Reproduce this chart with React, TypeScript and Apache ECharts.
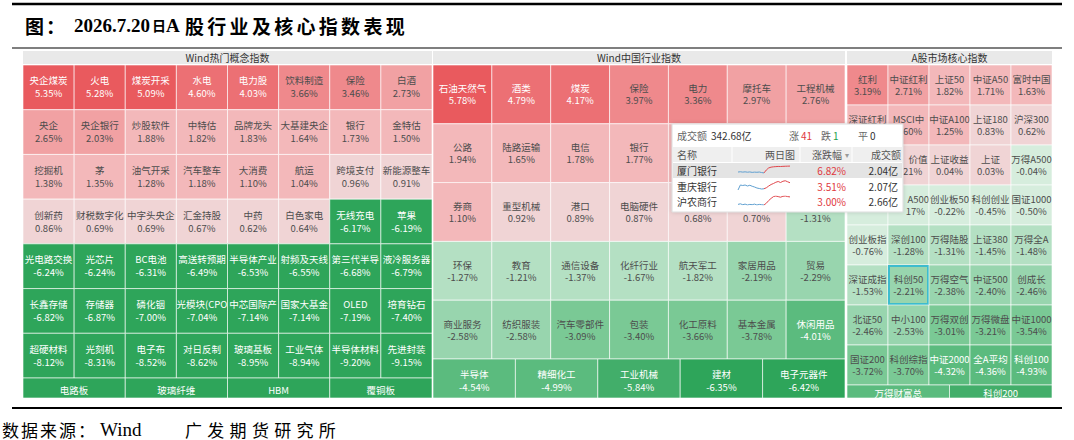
import React, { useEffect, useRef } from "react";
import * as echarts from "echarts";

const CN_FONT = '"Noto Sans CJK SC", "Microsoft YaHei", sans-serif';
const SERIF_FONT = '"Liberation Serif", "Noto Sans CJK SC", serif';
const CELL_FS = 9.5;

// Wind热门概念指数 (8 per row)
const conceptNames = [
  "央企煤炭", "火电", "煤炭开采", "水电", "电力股", "饮料制造", "保险", "白酒",
  "央企", "央企银行", "炒股软件", "中特估", "品牌龙头", "大基建央企", "银行", "金特估",
  "挖掘机", "茅", "油气开采", "汽车整车", "大消费", "航运", "跨境支付", "新能源整车",
  "创新药", "财税数字化", "中字头央企", "汇金持股", "中药", "白色家电", "无线充电", "苹果",
  "光电路交换", "光芯片", "BC电池", "高送转预期", "半导体产业", "射频及天线", "第三代半导", "液冷服务器",
  "长鑫存储", "存储器", "磷化铟", "光模块(CPO", "中芯国际产", "国家大基金", "OLED", "培育钻石",
  "超硬材料", "光刻机", "电子布", "对日反制", "玻璃基板", "工业气体", "半导体材料", "先进封装",
];
const conceptValues = [
  5.35, 5.28, 5.09, 4.6, 4.03, 3.66, 3.46, 2.73,
  2.65, 2.03, 1.88, 1.82, 1.83, 1.64, 1.73, 1.5,
  1.38, 1.35, 1.28, 1.18, 1.1, 1.04, 0.96, 0.91,
  0.86, 0.69, 0.69, 0.67, 0.62, 0.64, -6.17, -6.19,
  -6.24, -6.24, -6.31, -6.49, -6.53, -6.55, -6.68, -6.79,
  -6.82, -6.87, -7.0, -7.04, -7.14, -7.14, -7.19, -7.4,
  -8.12, -8.31, -8.52, -8.62, -8.95, -8.94, -9.2, -9.15,
];
const conceptTailNames = ["电路板", "玻璃纤维", "HBM", "覆铜板"];
const conceptTailValues = [-9.3, -9.5, -9.7, -9.9];

// Wind中国行业指数 (7 per row)
const industryNames = [
  "石油天然气", "酒类", "煤炭", "保险", "电力", "摩托车", "工程机械",
  "公路", "陆路运输", "电信", "银行", "", "", "",
  "券商", "重型机械", "港口", "电脑硬件", "", "", "",
  "环保", "教育", "通信设备", "化纤行业", "航天军工", "家居用品", "贸易",
  "商业服务", "纺织服装", "汽车零部件", "包装", "化工原料", "基本金属", "休闲用品",
];
const industryValues = [
  5.78, 4.79, 4.17, 3.97, 3.36, 2.97, 2.76,
  1.94, 1.65, 1.78, 1.77, 1.45, 1.3, 1.2,
  1.1, 0.92, 0.89, 0.87, 0.68, 0.7, -1.31,
  -1.27, -1.21, -1.37, -1.67, -1.82, -2.19, -2.29,
  -2.58, -2.58, -3.09, -3.4, -3.66, -3.78, -4.01,
];
const industryTailNames = ["半导体", "精细化工", "工业机械", "建材", "电子元器件"];
const industryTailValues = [-4.54, -4.99, -5.84, -6.35, -6.42];

// A股市场核心指数 (5 per row)
const indexNames = [
  "红利", "中证红利", "上证50", "中证A50", "富时中国",
  "深证红利", "MSCI中", "中证A100", "上证180", "沪深300",
  "", "国证价值", "上证收益", "上证", "万得A500",
  "", "中证A500", "创业板50", "科创创业", "国证1000",
  "创业板指", "深创100", "万得陆股", "上证380", "万得全A",
  "深证成指", "科创50", "万得空气", "中证500", "创成长",
  "北证50", "中小100", "万得双创", "万得微盘", "中证1000",
  "国证200", "科创综指", "中证2000", "全A平均", "科创100",
];
const indexValues = [
  3.19, 2.71, 1.82, 1.71, 1.63,
  1.55, 1.6, 1.25, 0.83, 0.62,
  0.35, 0.21, 0.04, 0.03, -0.04,
  -0.1, -0.17, -0.22, -0.45, -0.5,
  -0.76, -1.28, -1.31, -1.45, -1.48,
  -1.53, -2.21, -2.38, -2.4, -2.46,
  -2.46, -2.53, -3.01, -3.21, -3.54,
  -3.72, -3.7, -4.32, -4.36, -4.93,
];
const indexTailNames = ["万得财富总", "科创200"];
const indexTailValues = [-4.6, -5.6];
const selectedIndex = "科创50";

// 银行板块成分股浮窗
const boardTurnover = "342.68亿";
const boardUp = 41;
const boardDown = 1;
const boardFlat = 0;
const stockNames = ["厦门银行", "重庆银行", "沪农商行"];
const stockChanges = [6.82, 3.51, 3.0];
const stockTurnover = [2.04, 2.07, 2.66];
// two-day intraday sketches: previous session, then today's session
const sparkPrev = [
  [0.2, 0.5, 0.1, 0.4, 0.0, 0.3, -0.2, 0.1, -0.1, 0.2, -0.4, -0.8],
  [0.0, 2.0, 1.8, 2.0, 1.6, 1.9, 1.5, 1.2, 0.8, 0.6, 0.4, 0.5],
  [0.2, 0.4, 0.1, 0.3, 0.0, 0.2, 0.1, 0.3, 0.0, 0.2, 0.1, 0.0],
];
const sparkToday = [
  [-0.8, 2.5, 4.8, 5.6, 6.0, 6.2, 6.4, 6.3, 6.5, 6.6, 6.7, 6.8],
  [0.5, 0.9, 1.6, 2.2, 2.6, 3.1, 3.4, 3.0, 3.5, 3.7, 3.3, 2.9],
  [0.0, 0.6, 1.5, 2.2, 2.8, 3.0, 2.8, 2.6, 2.9, 3.0, 2.8, 2.7],
];

// colour buckets, one per whole percent
const colorPieces = [
  { gte: 5, color: "#e95a5e" },
  { gte: 4, lt: 5, color: "#ec7074" },
  { gte: 3, lt: 4, color: "#ef898c" },
  { gte: 2, lt: 3, color: "#f1a1a3" },
  { gte: 1, lt: 2, color: "#f3b8ba" },
  { gte: 0, lt: 1, color: "#f0d4d5" },
  { gte: -1, lt: 0, color: "#d6eddd" },
  { gte: -2, lt: -1, color: "#b4e0c3" },
  { gte: -3, lt: -2, color: "#98d5ae" },
  { gte: -4, lt: -3, color: "#7ac995" },
  { gte: -5, lt: -4, color: "#5bbb7e" },
  { gte: -6, lt: -5, color: "#42ae6a" },
  { lt: -6, color: "#2ea55a" },
];

const POPUP = { x: 672, y: 124, w: 231, h: 88 };

function charWidth(ch: string, size: number) {
  return ch.charCodeAt(0) < 128 ? size * 0.58 : size;
}
function textWidth(s: string, size: number) {
  let w = 0;
  for (const ch of s) w += charWidth(ch, size);
  return w;
}

// Place a centred label, leaving out whatever part the floating panel covers.
function fitOutsidePopup(s: string, cx: number, cy: number, size: number) {
  const w = textWidth(s, size);
  const l = cx - w / 2, r = cx + w / 2;
  const top = cy - size / 2, bot = cy + size / 2;
  const px0 = POPUP.x, px1 = POPUP.x + POPUP.w, py0 = POPUP.y, py1 = POPUP.y + POPUP.h;
  const v = Math.min(bot, py1) - Math.max(top, py0);
  const hz = Math.min(r, px1) - Math.max(l, px0);
  if (v <= 0 || hz <= 0) return { text: s, x: cx, align: "center" };
  if (l < px1 && r > px1 && l >= px0) {
    const chars = Array.from(s);
    let left = l;
    while (chars.length && left < px1) {
      left += charWidth(chars[0], size);
      chars.shift();
    }
    if (!chars.length) return null;
    return { text: chars.join(""), x: r, align: "right" };
  }
  if (l < px0 && r > px0 && r <= px1) {
    const chars = Array.from(s);
    let right = r;
    while (chars.length && right > px0) {
      right -= charWidth(chars[chars.length - 1], size);
      chars.pop();
    }
    if (!chars.length) return null;
    return { text: chars.join(""), x: l, align: "left" };
  }
  return null;
}

type Panel = {
  left: number; top: number; width: number; height: number;
  cols: number; rows: number;
  names: string[]; values: number[];
  nameOnly?: boolean; nameDy: number; valueDy: number;
};

const panels: Panel[] = [
  { left: 23, top: 65, width: 409, height: 313, cols: 8, rows: 7, names: conceptNames, values: conceptValues, nameDy: -7, valueDy: 6 },
  { left: 23, top: 378, width: 409, height: 20, cols: 4, rows: 1, names: conceptTailNames, values: conceptTailValues, nameOnly: true, nameDy: 2, valueDy: 0 },
  { left: 433, top: 65, width: 412, height: 294, cols: 7, rows: 5, names: industryNames, values: industryValues, nameDy: -6, valueDy: 6 },
  { left: 433, top: 359, width: 412, height: 39, cols: 5, rows: 1, names: industryTailNames, values: industryTailValues, nameDy: -5, valueDy: 8 },
  { left: 847, top: 65, width: 205, height: 320, cols: 5, rows: 8, names: indexNames, values: indexValues, nameDy: -6.5, valueDy: 6 },
  { left: 847, top: 385, width: 205, height: 13, cols: 2, rows: 1, names: indexTailNames, values: indexTailValues, nameOnly: true, nameDy: 1, valueDy: 0 },
];

const SPARK_GRIDS = [
  { top: 165, height: 9 },
  { top: 180, height: 10 },
  { top: 196, height: 9 },
];

function makeRender(p: Panel) {
  return (params: any, api: any) => {
    const col = api.value(0);
    const row = api.value(1);
    const span = api.value(2);
    const v = api.value(3);
    const a = api.coord([col, row]);
    const b = api.coord([col + span, row + 1]);
    const x = a[0], y = a[1], w = b[0] - a[0], h = b[1] - a[1];
    const cx = x + w / 2, cy = y + h / 2;
    const fg = Math.abs(v) >= 4 ? "#ffffff" : "#4d4d4d";
    const children: any[] = [
      {
        type: "rect",
        shape: { x, y, width: w, height: h },
        style: { fill: api.visual("color"), stroke: "rgba(255,255,255,0.6)", lineWidth: 1 },
      },
    ];
    const name = p.names[params.dataIndex];
    if (name === selectedIndex) {
      children.push({
        type: "rect",
        shape: { x: x + 1, y: y + 1, width: w - 2, height: h - 2 },
        style: { fill: "none", stroke: "#3dbccd", lineWidth: 2 },
      });
    }
    const addText = (s: string, ty: number) => {
      if (!s) return;
      const fit = fitOutsidePopup(s, cx, ty, CELL_FS);
      if (!fit) return;
      children.push({
        type: "text",
        style: {
          text: fit.text, x: fit.x, y: ty, align: fit.align, verticalAlign: "middle",
          fill: fg, fontSize: CELL_FS, fontFamily: CN_FONT,
        },
      });
    };
    addText(name, cy + p.nameDy);
    if (!p.nameOnly) addText(v.toFixed(2) + "%", cy + p.valueDy);
    return { type: "group", children };
  };
}

// one text element per character, at a fixed pitch
function spaced(s: string, x0: number, pitch: number, y: number, style: any) {
  return Array.from(s).map((ch, i) => ({
    type: "text", x: x0 + i * pitch, y,
    style: { ...style, text: ch, verticalAlign: "middle" },
  }));
}

function buildOption() {
  const grid: any[] = [];
  const xAxis: any[] = [];
  const yAxis: any[] = [];
  const series: any[] = [];

  panels.forEach((p, i) => {
    grid.push({ left: p.left, top: p.top, width: p.width, height: p.height });
    xAxis.push({ gridIndex: i, type: "value", min: 0, max: p.cols, show: false });
    yAxis.push({ gridIndex: i, type: "value", min: 0, max: p.rows, inverse: true, show: false });
    series.push({
      type: "custom",
      xAxisIndex: i,
      yAxisIndex: i,
      renderItem: makeRender(p),
      encode: { x: 0, y: 1 },
      data: p.values.map((v, k) => [k % p.cols, Math.floor(k / p.cols), 1, v]),
    });
  });

  const n = panels.length;
  SPARK_GRIDS.forEach((g, k) => {
    const gi = n + k;
    const prev = sparkPrev[k];
    const today = sparkToday[k];
    const len = prev.length + today.length - 1;
    grid.push({ left: 738, top: g.top, width: 52, height: g.height });
    xAxis.push({
      gridIndex: gi, type: "category", boundaryGap: false, show: false,
      data: Array.from({ length: len }, (_, j) => j),
    });
    yAxis.push({ gridIndex: gi, type: "value", scale: true, show: false });
    const blue = prev.concat(new Array(today.length - 1).fill(null));
    const red = new Array(prev.length - 1).fill(null).concat([prev[prev.length - 1]], today.slice(1));
    series.push(
      {
        type: "line", xAxisIndex: gi, yAxisIndex: gi, data: blue, symbol: "none", z: 110,
        lineStyle: { color: "#5f9fd0", width: 1 }, silent: true,
      },
      {
        type: "line", xAxisIndex: gi, yAxisIndex: gi, data: red, symbol: "none", z: 110,
        lineStyle: { color: "#e0474c", width: 1 }, silent: true,
      },
    );
  });

  const graphic: any[] = [];
  const titleCn = { fill: "#000", fontSize: 19, fontWeight: "bold", fontFamily: CN_FONT };
  const titleLatin = { fill: "#000", fontSize: 19, fontWeight: "bold", fontFamily: SERIF_FONT };
  // title and rules
  graphic.push(
    { type: "line", shape: { x1: 12, y1: 4, x2: 1062, y2: 4 }, style: { stroke: "#000", lineWidth: 2.5 } },
    ...spaced("图：", 25, 21, 25, titleCn),
    { type: "text", x: 74, y: 25, style: { ...titleLatin, text: "2026.7.20", verticalAlign: "middle" } },
    { type: "text", x: 152, y: 25, style: { ...titleCn, fontSize: 14, text: "日", verticalAlign: "middle" } },
    { type: "text", x: 166, y: 25, style: { ...titleLatin, text: "A", verticalAlign: "middle" } },
    ...spaced("股行业及核心指数表现", 185, 22.3, 25, titleCn),
    { type: "line", shape: { x1: 12, y1: 48, x2: 1062, y2: 48 }, style: { stroke: "#000", lineWidth: 1.2 } },
    { type: "line", shape: { x1: 12, y1: 408, x2: 1062, y2: 408 }, style: { stroke: "#000", lineWidth: 2 } },
  );
  const footCn = { fill: "#000", fontSize: 17, fontFamily: CN_FONT };
  graphic.push(
    ...spaced("数据来源：", 2, 19, 429, footCn),
    { type: "text", x: 100, y: 429, style: { fill: "#000", fontSize: 19, fontFamily: SERIF_FONT, text: "Wind", verticalAlign: "middle" } },
    ...spaced("广发期货研究所", 185, 22.3, 429, footCn),
  );

  // panel headers
  const headers = [
    { x: 23, w: 409, t: "Wind热门概念指数" },
    { x: 433, w: 412, t: "Wind中国行业指数" },
    { x: 847, w: 205, t: "A股市场核心指数" },
  ];
  headers.forEach((h) => {
    graphic.push(
      { type: "rect", shape: { x: h.x, y: 51, width: h.w, height: 13 }, style: { fill: "#e9e9e9" } },
      {
        type: "text", x: h.x + h.w / 2, y: 57.5,
        style: { text: h.t, fill: "#333", fontSize: 10, fontFamily: CN_FONT, align: "center", verticalAlign: "middle" },
      },
    );
  });

  // board popup
  const Z = 100;
  const t = (text: string, x: number, y: number, fill: string, align = "left", size = 10) => ({
    type: "text", x, y, z: Z + 2,
    style: { text, fill, fontSize: size, fontFamily: CN_FONT, align, verticalAlign: "middle" },
  });
  graphic.push(
    {
      type: "rect", z: Z, shape: { x: POPUP.x, y: POPUP.y, width: POPUP.w, height: POPUP.h },
      style: { fill: "#ffffff", stroke: "#dcdcdc", lineWidth: 1, shadowBlur: 4, shadowColor: "rgba(0,0,0,0.15)" },
    },
    t("成交额", 677, 135, "#666"),
    t(boardTurnover, 711, 135, "#333"),
    t("涨", 789, 135, "#666"),
    t(String(boardUp), 801, 135, "#e0393e"),
    t("跌", 821, 135, "#666"),
    t(String(boardDown), 833, 135, "#23a04c"),
    t("平", 858, 135, "#666"),
    t(String(boardFlat), 870, 135, "#333"),
    { type: "rect", z: Z + 1, shape: { x: POPUP.x + 1, y: 147, width: POPUP.w - 2, height: 15 }, style: { fill: "#efefef" } },
    { type: "line", z: Z + 1, shape: { x1: 732, y1: 147, x2: 732, y2: 162 }, style: { stroke: "#ffffff", lineWidth: 1 } },
    { type: "line", z: Z + 1, shape: { x1: 800, y1: 147, x2: 800, y2: 162 }, style: { stroke: "#ffffff", lineWidth: 1 } },
    { type: "line", z: Z + 1, shape: { x1: 852, y1: 147, x2: 852, y2: 162 }, style: { stroke: "#ffffff", lineWidth: 1 } },
    t("名称", 677, 154.5, "#555"),
    t("两日图", 795, 154.5, "#555", "right"),
    t("涨跌幅", 812, 154.5, "#555"),
    t("▾", 847, 154.5, "#999", "center", 8),
    t("成交额", 871, 154.5, "#555"),
    { type: "rect", z: Z + 1, shape: { x: POPUP.x + 1, y: 163, width: POPUP.w - 2, height: 15 }, style: { fill: "#e4e4e4" } },
  );
  const rowY = [170, 186, 201];
  stockNames.forEach((s, k) => {
    graphic.push(
      t(s, 677, rowY[k], "#333"),
      t(stockChanges[k].toFixed(2) + "%", 846, rowY[k], "#e0393e", "right"),
      t(stockTurnover[k].toFixed(2) + "亿", 898, rowY[k], "#333", "right"),
    );
  });

  return {
    animation: false,
    backgroundColor: "#ffffff",
    grid,
    xAxis,
    yAxis,
    visualMap: {
      type: "piecewise",
      show: false,
      dimension: 3,
      seriesIndex: panels.map((_, i) => i),
      pieces: colorPieces,
    },
    series,
    graphic,
  };
}

export default function App() {
  const ref = useRef<HTMLDivElement>(null);
  useEffect(() => {
    const chart = echarts.init(ref.current as HTMLDivElement, undefined, { renderer: "svg" });
    chart.setOption(buildOption() as any);
    return () => chart.dispose();
  }, []);
  return (
    <div
      ref={ref}
      style={{ position: "fixed", left: 0, top: 0, width: 1074, height: 440, background: "#fff" }}
    />
  );
}
